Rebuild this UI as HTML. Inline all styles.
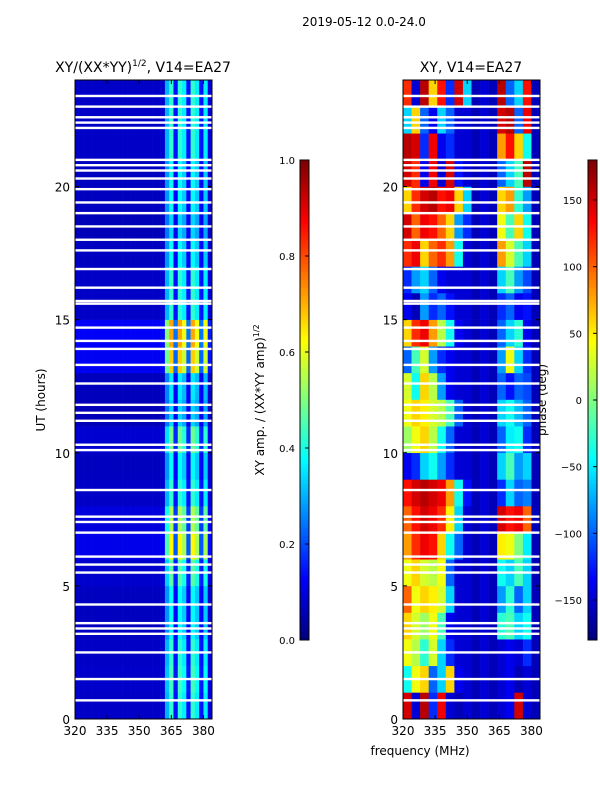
<!DOCTYPE html>
<html><head><meta charset="utf-8"><style>
body{margin:0;background:#fff;font-family:"DejaVu Sans","Liberation Sans",sans-serif}
svg text{font-family:"DejaVu Sans","Liberation Sans",sans-serif}
</style></head><body>
<svg id="s" width="600" height="800" xmlns="http://www.w3.org/2000/svg">
<text x="364" y="26" font-size="12" text-anchor="middle">2019-05-12 0.0-24.0</text>
<text x="143" y="72" font-size="14" text-anchor="middle">XY/(XX*YY)<tspan font-size="9" dy="-6">1/2</tspan><tspan dy="6">, V14=EA27</tspan></text>
<text x="471" y="72" font-size="14" text-anchor="middle">XY, V14=EA27</text>
<text transform="translate(45,400) rotate(-90)" font-size="12" text-anchor="middle">UT (hours)</text>
<text x="420" y="755" font-size="12" text-anchor="middle">frequency (MHz)</text>
<text transform="translate(264,400) rotate(-90)" font-size="12" text-anchor="middle">XY amp. / (XX*YY amp)<tspan font-size="8" dy="-5">1/2</tspan></text>
<text transform="translate(546,400) rotate(-90)" font-size="12" text-anchor="middle">phase (deg)</text>
<g id="g"></g>
</svg>
<script>
const freqEdgesL=[320,322,324,326,328,330,332,334,336,338,340,342,344,346,348,350,352,354,356,358,360,362,364,366,368,370,372,374,376,378,380,382,384];
const ampProfile=[0.07,0.07,0.07,0.07,0.07,0.07,0.07,0.07,0.07,0.07,0.07,0.07,0.07,0.07,0.07,0.07,0.07,0.07,0.07,0.07,0.08,0.3,0.42,0.14,0.42,0.36,0.14,0.42,0.36,0.14,0.36,0.09];
const ampHourScale=[1.0,1.05,1.0,0.9,0.9,1.1,1.5,1.3,1.0,0.9,1.15,0.8,0.85,1.6,1.7,1.0,1.0,0.9,0.8,0.9,0.9,1.0,1.0,1.0];
const gapHours=[0.7,1.5,2.5,3.2,3.4,3.6,4.3,5.5,5.8,6.1,7.0,7.4,7.6,8.6,10.1,10.3,11.2,11.5,11.8,12.6,13.3,13.9,14.2,14.7,15.6,15.7,16.2,16.9,17.6,18.0,18.5,19.0,19.4,19.9,20.3,20.6,20.8,21.0,22.2,22.4,22.6,23.0,23.4];
const freqEdgesR=[320,324,328,332,336,340,344,348,352,356,360,364,368,372,376,380,384];
const phaseRows=[
[150,-150,160,-120,140,-150,-160,-150,-160,-150,-160,-150,-140,150,-150,-160],
[-40,40,60,-100,-60,60,-140,-150,-160,-150,-160,-150,-140,-160,-150,-160],
[40,20,-30,30,-60,-120,-150,-150,-160,-150,-160,-150,-140,-150,-120,-160],
[60,30,10,40,-20,-140,-150,-150,-160,-150,-160,-30,-20,-60,-40,-160],
[100,40,60,50,30,-60,-150,-150,-160,-150,-160,-80,-30,-100,-60,-160],
[40,60,30,20,40,-100,-150,-150,-160,-150,-160,-40,-60,-20,-60,-160],
[80,120,140,130,60,-40,-100,-150,-160,-150,-160,50,40,0,-50,-160],
[100,130,150,140,120,50,-60,-150,-160,-150,-160,150,130,140,100,-160],
[130,150,160,150,140,80,-40,-130,-160,-150,-160,-120,-60,-100,-90,-160],
[-140,-120,-60,-40,-80,-120,-150,-150,-160,-150,-160,-60,-20,-80,-60,-160],
[10,40,60,20,-40,-100,-150,-150,-160,-150,-160,-100,-50,-40,-120,-160],
[40,60,50,30,20,-20,-100,-150,-160,-150,-160,-60,-40,-70,-100,-160],
[30,-40,60,20,-80,-140,-150,-150,-160,-150,-160,-100,-130,-100,-110,-160],
[-100,-20,30,-80,-120,-140,-150,-150,-160,-150,-160,-80,40,-60,-120,-160],
[60,120,140,80,20,-40,-140,-150,-160,-150,-160,-100,-60,-30,-140,-160],
[-140,-160,-80,-120,-100,-130,-150,-150,-160,-150,-160,-120,-100,-140,-130,-160],
[-120,-80,-60,-100,-140,-150,-150,-150,-160,-150,-160,-60,-20,-80,-110,-160],
[120,140,60,100,120,80,-40,-150,-160,-150,-160,80,30,-20,-60,-160],
[150,100,140,130,100,60,-80,-120,-160,-150,-160,40,-20,60,-40,-160],
[60,120,150,160,130,140,60,-60,-160,-150,-160,60,80,-30,-80,-160],
[150,120,-140,140,-150,150,-130,-150,-160,-150,-160,-100,-60,-20,160,-160],
[160,150,-120,140,-140,-120,-150,-150,-160,-150,-160,80,130,60,-40,-160],
[-60,60,-100,-140,-60,-100,-150,-150,-160,-150,-160,150,160,-100,140,-160],
[120,-150,160,60,130,-120,150,-60,-160,-150,-160,160,-100,-60,130,-160]];
const ampTicks=[0,0.2,0.4,0.6,0.8,1.0];
const phaseTicks=[-150,-100,-50,0,50,100,150];
const xTicks=[320,335,350,365,380];
const yTicks=[0,5,10,15,20];

const NS='http://www.w3.org/2000/svg';
const g=document.getElementById('g');
const T=80,B=719;
const yS=h=>B-(h/24)*(B-T);
const xL=f=>75+(f-320)/64*(212-75);
const xR=f=>403+(f-320)/64*(540-403);
function jet(v){v=Math.max(0,Math.min(1,v));
 const st=[[0,0,0,127],[0.125,0,0,255],[0.375,0,255,255],[0.625,255,255,0],[0.875,255,0,0],[1,127,0,0]];
 for(let i=1;i<st.length;i++){if(v<=st[i][0]){const a=st[i-1],b=st[i],t=(v-a[0])/(b[0]-a[0]);
 return `rgb(${Math.round(a[1]+t*(b[1]-a[1]))},${Math.round(a[2]+t*(b[2]-a[2]))},${Math.round(a[3]+t*(b[3]-a[3]))})`;}}return 'rgb(127,0,0)';}
function el(t,a){const e=document.createElementNS(NS,t);for(const k in a)e.setAttribute(k,a[k]);g.appendChild(e);return e;}
for(let h=0;h<ampHourScale.length;h++){for(let j=0;j<ampProfile.length;j++){
 const x0=xL(freqEdgesL[j]),x1=xL(freqEdgesL[j+1]);
 const r=el('rect',{x:x0,y:yS(h+1),width:x1-x0+0.3,height:yS(h)-yS(h+1)+0.3,fill:jet(ampProfile[j]*ampHourScale[h])});
 
 }}
for(let h=0;h<phaseRows.length;h++){for(let j=0;j<phaseRows[h].length;j++){
 const x0=xR(freqEdgesR[j]),x1=xR(freqEdgesR[j+1]);
 const r=el('rect',{x:x0,y:yS(h+1),width:x1-x0+0.3,height:yS(h)-yS(h+1)+0.3,fill:jet((phaseRows[h][j]+180)/360)});
 
 }}
for(const gh of gapHours){for(const xx of [[75,212],[403,540]]){
 const r=el('rect',{x:xx[0],y:yS(gh)-1.2,width:xx[1]-xx[0],height:2.4,fill:'#fff'});
 
 }}
for(const [x0,x1,xf,nm] of [[75,212,xL,'left'],[403,540,xR,'right']]){
 const fr=el('rect',{x:x0,y:T,width:x1-x0,height:B-T,fill:'none',stroke:'#000','stroke-width':1});
 
 
 for(const t of xTicks){const x=xf(t);el('line',{x1:x,x2:x,y1:B,y2:B-4,stroke:'#000'});el('line',{x1:x,x2:x,y1:T,y2:T+4,stroke:'#000'});
  const tx=el('text',{x:x,y:B+16,'font-size':12,'text-anchor':'middle'});tx.textContent=t;
  
  }
 for(const t of yTicks){const y=yS(t);el('line',{x1:x0,x2:x0+4,y1:y,y2:y,stroke:'#000'});el('line',{x1:x1,x2:x1-4,y1:y,y2:y,stroke:'#000'});
  const tx=el('text',{x:x0-5,y:y+5,'font-size':12,'text-anchor':'end'});tx.textContent=t;
  
  }}
for(const [cx,ticks,lo,hi,nm] of [[300,ampTicks,0,1,'amp'],[588,phaseTicks,-180,180,'phase']]){
 for(let i=0;i<120;i++){el('rect',{x:cx,y:640-(i+1)*4,width:9,height:4.3,fill:jet(i/119)});}
 const fr=el('rect',{x:cx,y:160,width:9,height:480,fill:'none',stroke:'#000'});
 
 
 for(const t of ticks){const y=640-(t-lo)/(hi-lo)*480;el('line',{x1:cx+9,x2:cx+5,y1:y,y2:y,stroke:'#000'});
  const tx=el('text',{x:nm==='amp'?cx-5:cx-6,y:y+4,'font-size':10,'text-anchor':'end'});
  tx.textContent=nm==='amp'?t.toFixed(1):(t<0?'\u2212'+(-t):t);
  
  }}
</script>
</body></html>
